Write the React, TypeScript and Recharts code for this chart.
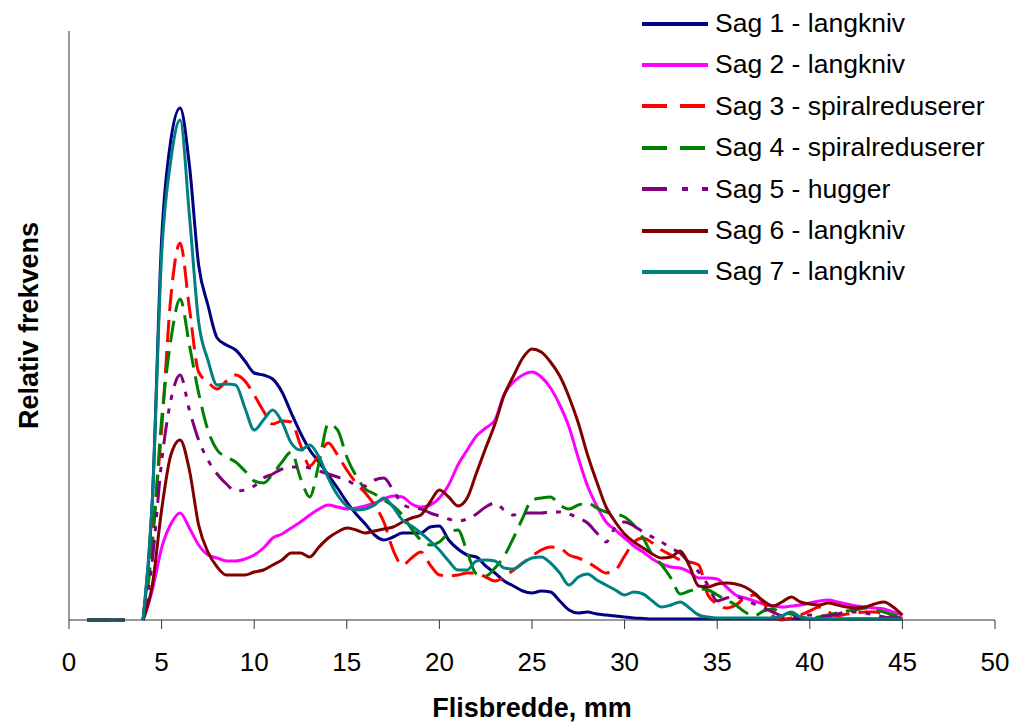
import { LineChart, Line, XAxis, YAxis, Legend, Label } from 'recharts';

const FONT = "'Liberation Sans', Arial, sans-serif";

// chip width in mm (sampling points)
const widths = [
  1, 1.5, 2, 2.5, 3, 3.5,
  4, 4.5, 5, 5.5, 6, 6.5, 7, 7.5, 8, 8.5,
  9, 9.5, 10, 10.5, 11, 11.5, 12, 12.5, 13, 13.5,
  14, 14.5, 15, 15.5, 16, 16.5, 17, 17.5, 18, 18.5,
  19, 19.5, 20, 20.5, 21, 21.5, 22, 22.5, 23, 23.5,
  24, 24.5, 25, 25.5, 26, 26.5, 27, 27.5, 28, 28.5,
  29, 29.5, 30, 30.5, 31, 31.5, 32, 32.5, 33, 33.5,
  34, 34.5, 35, 35.5, 36, 36.5, 37, 37.5, 38, 38.5,
  39, 39.5, 40, 40.5, 41, 41.5, 42, 42.5, 43, 43.5,
  44, 44.5, 45,
];

// values at 1-3.5 mm (empty at 3.5)
const lead = [0, 0, 0, 0, 0, null];

const sag1 = [...lead,
  0, 24, 76, 96, 102.4, 91, 71, 63, 56.4, 55,
  54, 51.8, 49.4, 49, 48.2, 45.6, 41.4, 37.4, 34, 31.6,
  29, 26.4, 23.6, 21.2, 19.2, 17, 16, 16.6, 17.4, 17.4,
  17.4, 18.6, 18.8, 16, 14.2, 13, 12.6, 10.8, 9.4, 7.8,
  6.8, 5.8, 5.4, 5.8, 5.6, 3.8, 2, 1.4, 1.6, 1.2,
  1, 0.8, 0.6, 0.4, 0.3, 0.2, 0.2, 0.2, 0.2, 0.2,
  0.2, 0.2, 0.2, 0.2, 0.2, 0.2, 0.2, 0.2, 0.2, 0.2,
  0.2, 0.2, 0.2, 0.2, 0.2, 0.2, 0.2, 0.2, 0.2, 0.2,
  0.2, 0.2, 0.2,
];

const sag2 = [...lead,
  0, 6, 14.4, 19.2, 21.4, 18.4, 15, 13, 12.4, 11.8,
  11.8, 12.2, 13, 14.4, 16.4, 17.2, 18.4, 19.6, 21, 22.2,
  23, 22.6, 22.2, 22.4, 22.8, 23.4, 24.2, 24.8, 24.6, 23.2,
  22.6, 23, 24.4, 27, 31, 34, 36.8, 38.4, 40, 45.2,
  47.6, 49, 49.6, 48.6, 46.4, 43, 38.6, 32.4, 26.8, 22.8,
  19.6, 18, 16.4, 14.8, 13.6, 12.2, 11.2, 10.6, 10.4, 9.6,
  8.4, 8.4, 8.2, 6.6, 5, 4.4, 3.8, 3.2, 2.8, 2.6,
  2.8, 3, 3.4, 3.8, 4, 3.6, 3.2, 2.8, 2.6, 2.4,
  2.2, 1.6, 1,
];

const sag3 = [...lead,
  0, 16.8, 38, 64.6, 75.4, 62.4, 49.6, 47.6, 46.2, 47.8,
  49, 47.8, 45, 41.8, 39.2, 39.8, 39.6, 35, 30.8, 33,
  35.4, 33, 30, 27.4, 25.4, 23, 19.6, 14, 11, 12.4,
  13.6, 11, 9, 8.8, 9, 9.4, 9.4, 8.6, 7.8, 8.6,
  10, 11.4, 12.8, 14, 14.6, 14.4, 13, 12.4, 11.6, 10.4,
  9.4, 10, 12.8, 15.6, 16.4, 15.4, 14, 13, 12, 11.6,
  11, 5, 3.2, 2.4, 3, 4.4, 5, 3.4, 0.8, 0,
  0.4, 1, 1.8, 2.6, 1.6, 0.8, 1.2, 1.4, 1.6, 1.6,
  1.2, 0.6, 0.4,
];

const sag4 = [...lead,
  0, 15, 40, 56, 64.2, 55, 45.4, 38, 34, 32.6,
  31.6, 29.8, 27.8, 27.4, 29.2, 31.6, 33.6, 28.4, 24.6, 31.4,
  39.2, 38, 32.6, 28.8, 26.2, 25.2, 24, 22.8, 21, 18.2,
  16, 15, 15.6, 17.4, 18, 13.6, 9.2, 8.8, 10.4, 12.8,
  16.4, 20.4, 24, 24.4, 24.6, 23, 22.2, 23, 23.4, 22.4,
  21.6, 21.2, 20.6, 19, 16.4, 13, 11, 8.4, 5.2, 5.8,
  6.2, 6, 5, 4, 3, 1.6, 0.8, 1.8, 2.2, 1.4,
  1.2, 0.6, 0.4, 0.6, 1, 1.4, 1.8, 2, 2.4, 2,
  1.6, 1, 0.6,
];

const sag5 = [...lead,
  0, 12, 31.6, 44, 49, 42, 36, 32, 29.2, 27.2,
  25.8, 26, 26.8, 28.4, 29.2, 30.2, 30.6, 30.6, 30.4, 29.8,
  29.2, 28.6, 28, 27, 26.8, 28, 28.4, 26, 23.2, 22.4,
  22.2, 21.4, 20.8, 20.2, 19.8, 20.2, 21.2, 22.6, 23.4, 22,
  21, 21.4, 21.4, 21.4, 21.6, 21.6, 21.2, 20.4, 19.4, 17.4,
  15.6, 18.6, 19.6, 18.8, 17.6, 16.6, 15.6, 14.4, 13.4, 11.4,
  9.6, 7, 3.8, 4.4, 4.6, 4, 3.2, 2.4, 1.6, 0.8,
  0.6, 0.6, 1, 0.8, 0.8, 1.2, 1.6, 1.6, 1.4, 1,
  0.6, 0.4, 0.4,
];

const sag6 = [...lead,
  0, 7, 22, 33, 36, 30, 19, 13.6, 10.6, 9,
  9, 9, 9.6, 10, 11, 12, 13.4, 13.4, 12.6, 14.6,
  16.4, 17.6, 18.4, 18, 17.4, 17.8, 18.2, 18.6, 19.6, 20.4,
  21, 23.6, 26, 24.6, 22.8, 24.4, 29.4, 34.4, 39.2, 45,
  48.8, 52.4, 54.2, 53.6, 51.6, 48.8, 44.6, 39.4, 33, 27.6,
  22.6, 19.6, 17.2, 15.6, 14.4, 13.2, 12.4, 12.6, 13.8, 10.8,
  6.8, 6.6, 7.2, 7.4, 7.2, 6.6, 5.4, 3.8, 2.8, 3.6,
  4.6, 3.6, 3.2, 3, 3.4, 3, 2.6, 2.4, 2.6, 3.2,
  3.6, 2.6, 1,
];

const sag7 = [...lead,
  0, 24, 73, 92, 100, 81, 59.6, 52, 47, 47.2,
  47, 42.4, 38, 40, 42, 39.6, 35.4, 34, 35, 32.6,
  28.4, 25, 22.8, 22, 22.2, 23, 24.4, 22.6, 20, 18.8,
  17.4, 15.8, 14, 11.8, 10, 10, 11.8, 12, 11.8, 10.4,
  10.2, 11.4, 12.4, 12.6, 11.4, 9.4, 7, 8.6, 9.2, 8,
  7, 6, 5, 5.6, 5.2, 3.8, 2.6, 3, 3.6, 2.4,
  1, 0.6, 0.4, 0.4, 0.4, 0.4, 0.4, 0.4, 0.4, 0.8,
  1.6, 0.6, 0.2, 0.2, 0.2, 0.2, 0.2, 0.2, 0.2, 0.2,
  0.2, 0.2, 0.2,
];

const xTicks = [0, 5, 10, 15, 20, 25, 30, 35, 40, 45, 50];

const seriesNames = [
  'Sag 1 - langkniv',
  'Sag 2 - langkniv',
  'Sag 3 - spiralreduserer',
  'Sag 4 - spiralreduserer',
  'Sag 5 - hugger',
  'Sag 6 - langkniv',
  'Sag 7 - langkniv',
];
const seriesValues = [sag1, sag2, sag3, sag4, sag5, sag6, sag7];
const colors = ['#000080', '#FF00FF', '#FF0000', '#008000', '#800080', '#800000', '#008080'];
const lineDash = [undefined, undefined, '22 9', '22 9', '22 9 5 9 5 9', undefined, undefined];
const legendDash = [undefined, undefined, '25 13', '25 13', '25 15 6 14 6 20', undefined, undefined];

const rows = widths.map((x, i) => {
  const row: Record<string, number | null> = { x };
  seriesValues.forEach((s, k) => {
    row[`s${k}`] = s[i];
  });
  return row;
});

function LegendBox() {
  return (
    <div style={{ fontFamily: FONT, fontSize: 26.5, color: '#000' }}>
      {seriesNames.map((name, i) => (
        <div key={name} style={{ display: 'flex', alignItems: 'center', height: 41.4 }}>
          <svg width={66} height={8} style={{ marginRight: 7, flex: 'none' }}>
            <line x1={0} y1={4} x2={66} y2={4} stroke={colors[i]} strokeWidth={4} strokeDasharray={legendDash[i]} />
          </svg>
          <span style={{ lineHeight: '41.4px', whiteSpace: 'nowrap' }}>{name}</span>
        </div>
      ))}
    </div>
  );
}

export default function App() {
  return (
    <div style={{ position: 'absolute', left: 0, top: 0, background: '#fff' }}>
      <LineChart width={1017} height={722} data={rows} margin={{ top: 31, right: 22, bottom: 0, left: 0 }}>
        <XAxis
          dataKey="x"
          type="number"
          domain={[0, 50]}
          ticks={xTicks}
          height={102}
          tickSize={9}
          tickMargin={24}
          stroke="#333"
          tick={{ fontSize: 26, fill: '#000', fontFamily: FONT }}
        >
          <Label
            value="Flisbredde, mm"
            position="insideBottom"
            offset={5}
            style={{ fontSize: 27, fontWeight: 'bold', fill: '#000', fontFamily: FONT }}
          />
        </XAxis>
        <YAxis
          domain={[0, 117.8]}
          width={69}
          tick={false}
          tickLine={false}
          stroke="#333"
        >
          <Label
            content={(props: any) => {
              const vb = props.viewBox || { x: 0, y: 31, width: 69, height: 589 };
              const cx = 38;
              const cy = vb.y + vb.height / 2;
              return (
                <text
                  x={cx}
                  y={cy}
                  transform={`rotate(-90 ${cx} ${cy})`}
                  textAnchor="middle"
                  style={{ fontSize: 27, fontWeight: 'bold', fill: '#000', fontFamily: FONT }}
                >
                  Relativ frekvens
                </text>
              );
            }}
          />
        </YAxis>
        <Legend
          layout="vertical"
          align="center"
          verticalAlign="middle"
          content={() => <LegendBox />}
          wrapperStyle={{ left: 642, top: 3, width: 370, height: 290 }}
        />
        {seriesNames.map((name, k) => (
          <Line
            key={name}
            name={name}
            dataKey={`s${k}`}
            type="monotone"
            stroke={colors[k]}
            strokeWidth={3}
            strokeDasharray={lineDash[k]}
            dot={false}
            activeDot={false}
            isAnimationActive={false}
          />
        ))}
      </LineChart>
    </div>
  );
}
